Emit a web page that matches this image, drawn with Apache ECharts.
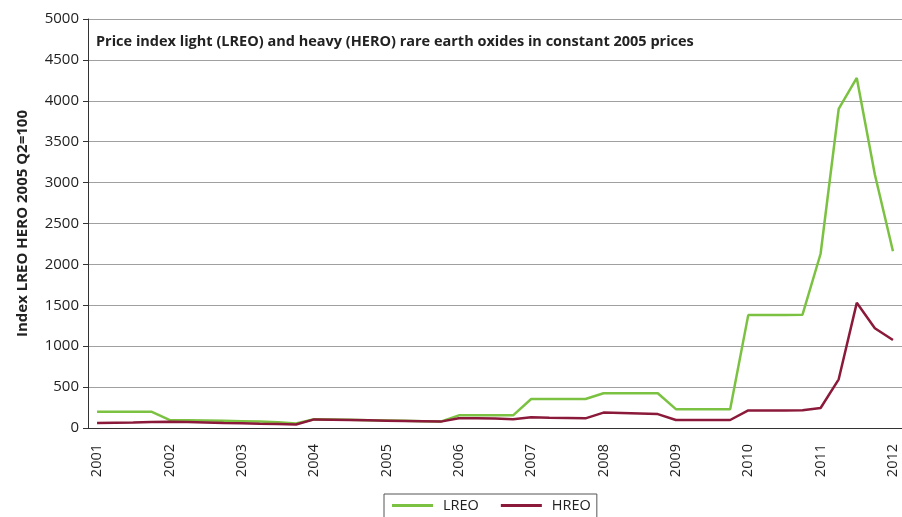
<!DOCTYPE html>
<html>
<head>
    <meta charset="utf-8">
    <title>Rare earth oxide price index</title>
    <script src="https://cdn.jsdelivr.net/npm/echarts@6/dist/echarts.min.js"></script>
    <style>
        html, body { margin: 0; padding: 0; background: #fff; }
        #main { width: 902px; height: 517px; }
    </style>
</head>
<body>
<div id="main"></div>
<script>
    // quarterly data, 2001 Q1 .. 2012 Q1
    var years = ['2001', '2002', '2003', '2004', '2005', '2006', '2007', '2008', '2009', '2010', '2011', '2012'];
    var quarters = ['Q1', 'Q2', 'Q3', 'Q4'];
    var lreo = [200, 200, 200, 200, 98, 95, 92, 88, 84, 78, 70, 55,
        108, 104, 100, 96, 92, 88, 84, 78, 155, 155, 155, 155,
        355, 355, 355, 355, 425, 425, 425, 425, 230, 230, 230, 230,
        1380, 1380, 1380, 1385, 2130, 3900, 4280, 3100, 2160];
    var hreo = [62, 65, 68, 72, 75, 72, 68, 62, 58, 52, 48, 42,
        105, 102, 98, 94, 90, 86, 82, 78, 120, 118, 115, 108,
        130, 125, 122, 118, 188, 182, 176, 170, 98, 98, 98, 98,
        215, 215, 215, 218, 245, 595, 1530, 1220, 1075];

    var categories = [];
    years.forEach(function (y) {
        quarters.forEach(function (q) { categories.push(y + ' ' + q); });
    });
    categories = categories.slice(0, lreo.length);

    var font = '"Open Sans", "Noto Sans", sans-serif';
    var chart = echarts.init(document.getElementById('main'));
    chart.setOption({
        animation: false,
        title: {
            text: 'Price index light (LREO) and heavy (HERO) rare earth oxides in constant 2005 prices',
            left: 96,
            top: 34,
            padding: 0,
            textStyle: { fontFamily: font, fontSize: 14.5, fontWeight: 'bold', color: '#222' }
        },
        legend: {
            left: 384,
            top: 494,
            padding: [4, 6, 8, 8],
            itemGap: 22,
            itemWidth: 41,
            itemHeight: 3,
            icon: 'rect',
            borderColor: '#555',
            borderWidth: 1,
            textStyle: { fontFamily: font, fontSize: 14.5, color: '#222', padding: [0, 0, 0, 5] },
            data: ['LREO', 'HREO']
        },
        grid: { left: 88, top: 19, width: 818, height: 409 },
        xAxis: {
            type: 'category',
            data: categories,
            boundaryGap: true,
            axisLine: { lineStyle: { color: '#333', width: 1 } },
            axisTick: { interval: 0, length: 5, lineStyle: { color: '#333' } },
            axisLabel: {
                interval: 3,
                rotate: 90,
                margin: 16,
                fontFamily: font,
                fontSize: 14.5,
                color: '#222',
                formatter: function (v) { return v.slice(0, 4); }
            },
            splitLine: { show: false }
        },
        yAxis: {
            type: 'value',
            min: 0,
            max: 5000,
            interval: 500,
            name: 'Index LREO HERO 2005 Q2=100',
            nameLocation: 'middle',
            nameGap: 58,
            nameTextStyle: { fontFamily: font, fontSize: 15, fontWeight: 'bold', color: '#222' },
            axisLine: { show: true, lineStyle: { color: '#333', width: 1 } },
            axisTick: { show: true, length: 5, lineStyle: { color: '#333' } },
            axisLabel: {
                fontFamily: font, fontSize: 15, color: '#222', margin: 9,
                formatter: function (v) { return String(v); }
            },
            splitLine: { lineStyle: { color: '#a0a0a0', width: 1 } }
        },
        series: [
            {
                name: 'LREO',
                type: 'line',
                data: lreo,
                symbol: 'none',
                color: '#7cc242',
                lineStyle: { width: 2.5, color: '#7cc242' }
            },
            {
                name: 'HREO',
                type: 'line',
                data: hreo,
                symbol: 'none',
                color: '#8b1a3a',
                lineStyle: { width: 2.5, color: '#8b1a3a' }
            }
        ]
    });
</script>
</body>
</html>
